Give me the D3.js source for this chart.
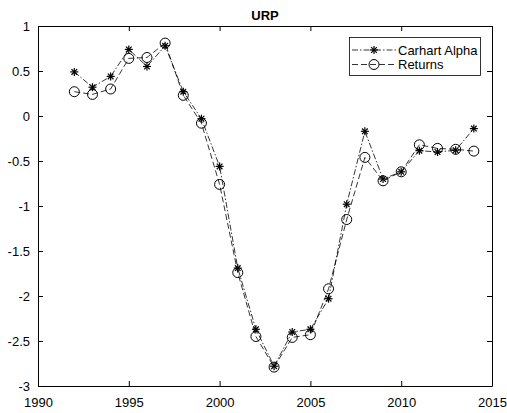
<!DOCTYPE html>
<html>
<head>
<meta charset="utf-8">
<script src="https://cdn.jsdelivr.net/npm/d3@7"></script>
<style>
  body { margin: 0; background: #fff; }
  text { font-family: "Liberation Sans", Arial, sans-serif; }
</style>
</head>
<body>
<div id="chart"></div>
<script>
const years = d3.range(1992, 2015);
const carhartAlpha = [0.49, 0.32, 0.44, 0.74, 0.55, 0.78, 0.27, -0.03, -0.56, -1.69, -2.37, -2.78, -2.40,
  -2.37, -2.03, -0.98, -0.17, -0.70, -0.62, -0.385, -0.40, -0.38, -0.14];
const returns = [0.27, 0.24, 0.30, 0.64, 0.65, 0.81, 0.23, -0.08, -0.76, -1.74, -2.45, -2.79, -2.46,
  -2.43, -1.92, -1.15, -0.46, -0.72, -0.62, -0.32, -0.36, -0.37, -0.39];
const xTicks = [1990, 1995, 2000, 2005, 2010, 2015];
const yTicks = [-3, -2.5, -2, -1.5, -1, -0.5, 0, 0.5, 1];
const seriesNames = ["Carhart Alpha", "Returns"];

const width = 507, height = 413;
const margin = {top: 26, right: 15, bottom: 27, left: 38};

const svg = d3.select("#chart").append("svg")
  .attr("width", width)
  .attr("height", height);

const x = d3.scaleLinear().domain([1990, 2015]).range([margin.left, width - margin.right]);
const y = d3.scaleLinear().domain([-3, 1]).range([height - margin.bottom, margin.top]);

const tickLen = 5;
const fmt = d => String(d);
const fontSize = 13;

// axes (MATLAB style: ticks inside, box on)
svg.append("g")
  .attr("transform", `translate(0,${y(-3)})`)
  .call(d3.axisBottom(x).tickValues(xTicks).tickFormat(fmt).tickSizeInner(-tickLen).tickSizeOuter(0).tickPadding(12))
  .call(g => g.selectAll("text").attr("font-size", fontSize).attr("fill", "#000"));
svg.append("g")
  .attr("transform", `translate(0,${y(1)})`)
  .call(d3.axisTop(x).tickValues(xTicks).tickFormat("").tickSizeInner(-tickLen).tickSizeOuter(0));
svg.append("g")
  .attr("transform", `translate(${x(1990)},0)`)
  .call(d3.axisLeft(y).tickValues(yTicks).tickFormat(fmt).tickSizeInner(-tickLen).tickSizeOuter(0).tickPadding(8))
  .call(g => g.selectAll("text").attr("font-size", fontSize).attr("fill", "#000"));
svg.append("g")
  .attr("transform", `translate(${x(2015)},0)`)
  .call(d3.axisRight(y).tickValues(yTicks).tickFormat("").tickSizeInner(-tickLen).tickSizeOuter(0));

svg.selectAll(".domain").attr("stroke", "#000");
svg.selectAll(".tick line").attr("stroke", "#000");

svg.append("text")
  .attr("x", (x(1990) + x(2015)) / 2)
  .attr("y", 19.5)
  .attr("text-anchor", "middle")
  .attr("font-size", fontSize)
  .attr("font-weight", "bold")
  .text("URP");

const line = d3.line().x((d, i) => x(years[i])).y(d => y(d));

const series = [
  {name: seriesNames[0], values: carhartAlpha, dash: "6,2,1.5,2", marker: "star"},
  {name: seriesNames[1], values: returns, dash: "6,3", marker: "circle"}
];

function drawMarker(g, type, cx, cy) {
  if (type === "circle") {
    g.append("circle").attr("cx", cx).attr("cy", cy).attr("r", 5)
      .attr("fill", "none").attr("stroke", "#000").attr("stroke-width", 1);
  } else {
    const r = 4;
    [0, 45, 90, 135].forEach(a => {
      const rad = a * Math.PI / 180;
      g.append("line")
        .attr("x1", cx - r * Math.cos(rad)).attr("y1", cy - r * Math.sin(rad))
        .attr("x2", cx + r * Math.cos(rad)).attr("y2", cy + r * Math.sin(rad))
        .attr("stroke", "#000").attr("stroke-width", 1.2);
    });
  }
}

series.forEach(s => {
  svg.append("path")
    .datum(s.values)
    .attr("fill", "none")
    .attr("stroke", "#000")
    .attr("stroke-width", 0.8)
    .attr("stroke-dasharray", s.dash)
    .attr("d", line);
  const mg = svg.append("g");
  s.values.forEach((v, i) => drawMarker(mg, s.marker, x(years[i]), y(v)));
});

// legend
const lg = svg.append("g");
lg.append("rect")
  .attr("x", 349.5).attr("y", 37.5).attr("width", 131).attr("height", 38)
  .attr("fill", "#fff").attr("stroke", "#000").attr("stroke-width", 0.8);
series.forEach((s, i) => {
  const ly = 50 + i * 14.5;
  lg.append("line")
    .attr("x1", 352).attr("x2", 396).attr("y1", ly).attr("y2", ly)
    .attr("stroke", "#000").attr("stroke-width", 0.8)
    .attr("stroke-dasharray", s.dash);
  drawMarker(lg, s.marker, 374, ly);
  lg.append("text")
    .attr("x", 398).attr("y", ly + 4.5)
    .attr("font-size", fontSize)
    .text(s.name);
});
</script>
</body>
</html>
